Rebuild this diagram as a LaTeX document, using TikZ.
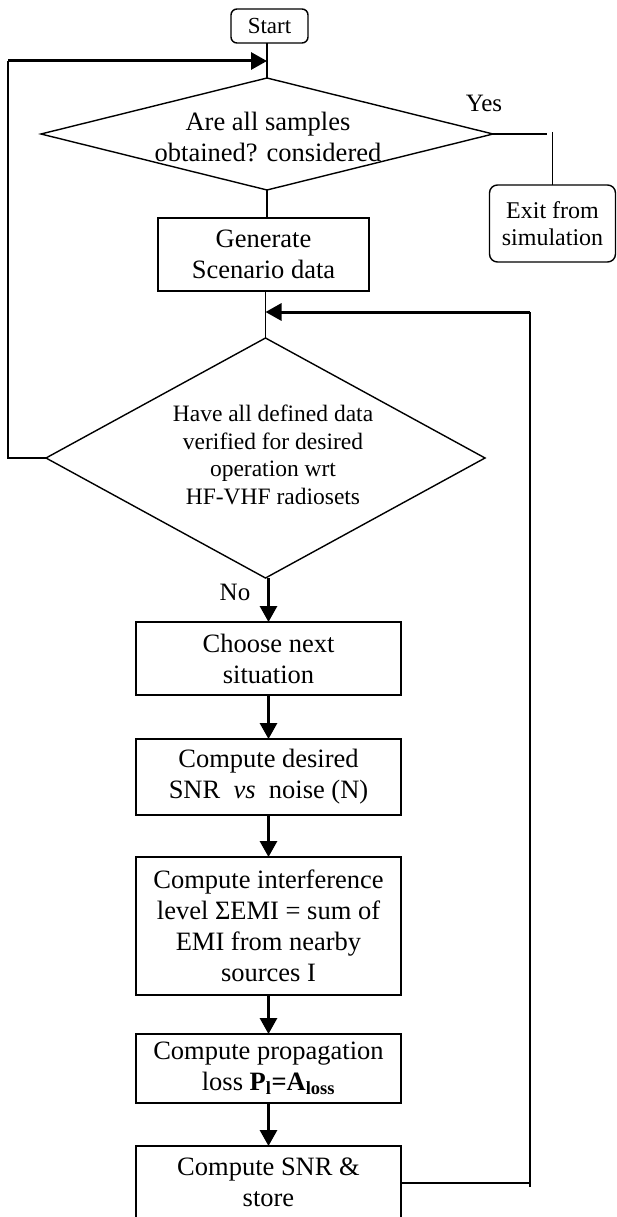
\documentclass[tikz,border=0pt]{standalone}
\usepackage{fontspec}
\setmainfont{Liberation Serif}
\usetikzlibrary{shapes.geometric,arrows.meta}
\begin{document}
\begin{tikzpicture}[x=1pt,y=-1pt,
  line width=1.4pt,
  base/.style={inner sep=0pt,outer sep=0pt,align=center},
  procbox/.style={base,draw,rectangle,minimum width=265pt,font=\fontsize{26.5}{31}\selectfont},
  termbox/.style={base,draw,rectangle,rounded corners=8pt},
  decbox/.style={base,draw,diamond},
  txt/.style={base,font=\fontsize{26.5}{31}\selectfont},
  lbl/.style={base,font=\fontsize{25}{29}\selectfont},
  flow/.style={line width=3pt,-{Triangle[length=16pt,width=17pt]}},
]
\useasboundingbox (0,0) rectangle (616,1217);

% nodes
\node[termbox, minimum width=77pt, minimum height=34pt, rounded corners=6pt, font=\fontsize{23}{27}\selectfont] (start) at (269.5,26) {Start};
\node[decbox, minimum width=452pt, minimum height=112pt] (d1) at (267,134) {};
\node[txt] (d1t) at (268,137) {Are all samples\\obtained? considered};
\node[lbl] (yes) at (484,103) {Yes};
\node[termbox, minimum width=126pt, minimum height=77pt, font=\fontsize{24}{27}\selectfont] (exit) at (552.5,223.5) {Exit from\\simulation};
\node[procbox, minimum width=211pt, minimum height=73pt] (gen) at (263.5,254.5) {Generate\\Scenario data};
\node[decbox, minimum width=439pt, minimum height=240pt] (d2) at (265.5,458) {};
\node[base, font=\fontsize{23.5}{27.7}\selectfont] (d2t) at (273,455) {Have all defined data\\verified for desired\\operation wrt\\HF-VHF radiosets};
\node[lbl] (no) at (235,592) {No};
\node[procbox, minimum height=73pt] (choose) at (268.5,658.5) {Choose next\\situation};
\node[procbox, minimum height=76pt] (snrn) at (268.5,777) {Compute desired\\SNR\ \ \textit{vs}\ \ noise (N)};
\node[procbox, minimum height=138pt] (emi) at (268.5,926) {Compute interference\\level ΣEMI = sum of\\EMI from nearby\\sources I};
\node[procbox, minimum height=69pt] (prop) at (268.5,1068.5) {Compute propagation\\loss \textbf{P\textsubscript{l}=A\textsubscript{loss}}};
\node[procbox, minimum height=73pt] (store) at (268.5,1182.5) {Compute SNR \&\\store};

% coordinates
\coordinate (lb) at (8,458);
\coordinate (lt) at (8,61);
\coordinate (yesend) at (547,134);
\coordinate (exittop) at (552.5,132);
\coordinate (rb) at (530,1183);
\coordinate (rbe) at (530,1187);
\coordinate (rt) at (530,312);

% connectors
\draw (d1.north |- start.south) -- (d1.north);
\draw (d1.south) -- (d1.south |- gen.north);
\draw (gen.south -| d2.north) -- (d2.north);
\draw (d1.east) -- (yesend);
\draw (exittop) -- (exit.north);
\draw (d2.west) -- (lb) -- (lt);
\draw[flow] (lt) -- (lt -| d1.north);
\draw[flow] (choose.north |- d2.south) -- (choose.north);
\draw[flow] (choose.south) -- (snrn.north);
\draw[flow] (snrn.south) -- (emi.north);
\draw[flow] (emi.south) -- (prop.north);
\draw[flow] (prop.south) -- (store.north);
\draw (store.east |- rb) -- (rb);
\draw (rbe) -- (rt);
\draw[flow] (rt) -- (rt -| d2.north);
\end{tikzpicture}
\end{document}
